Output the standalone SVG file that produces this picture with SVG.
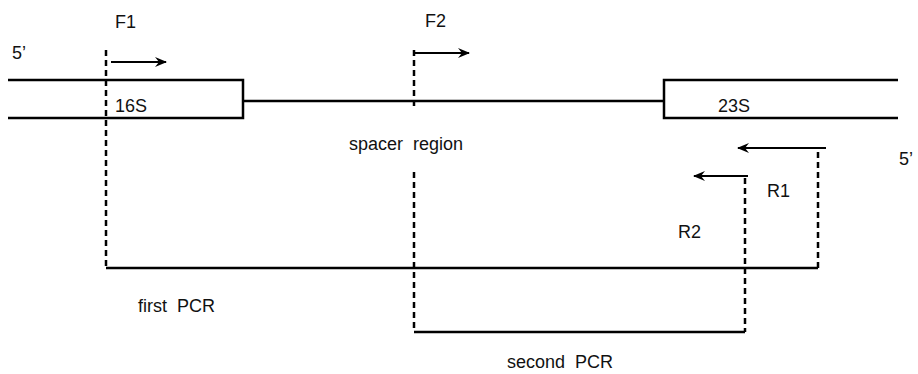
<svg xmlns="http://www.w3.org/2000/svg" width="918" height="374" viewBox="0 0 918 374">
<style>
.s{stroke:#000;stroke-width:2.5;fill:none}
.d{stroke:#000;stroke-width:2.5;fill:none;stroke-dasharray:6,4}
.a{stroke:#000;stroke-width:2;fill:none}
text{font-family:"Liberation Sans",Arial,sans-serif;font-size:18px;fill:#111;word-spacing:5px}
</style>
<defs>
<marker id="ah" viewBox="0 0 12 10" refX="11" refY="5" markerWidth="12" markerHeight="10" markerUnits="userSpaceOnUse" orient="auto">
<path d="M0,0 L12,5 L0,10 L4,5 Z" fill="#000"/>
</marker>
</defs>
<rect width="918" height="374" fill="#fff"/>
<g id="gene16S">
<path class="s" d="M8,80 H243 V118 H8"/>
<text x="115" y="112">16S</text>
</g>
<g id="spacer">
<line class="s" x1="243" y1="101" x2="664" y2="101"/>
<text x="349" y="150">spacer region</text>
</g>
<g id="gene23S">
<path class="s" d="M898,80 H664 V118 H898"/>
<text x="718" y="112">23S</text>
</g>
<g id="labels">
<text x="12" y="59">5’</text>
<text x="899" y="165">5’</text>
</g>
<g id="F1">
<text x="115" y="28">F1</text>
<line class="a" x1="111" y1="62" x2="166" y2="62" marker-end="url(#ah)"/>
</g>
<g id="F2">
<text x="425" y="27">F2</text>
<line class="a" x1="415" y1="53" x2="469" y2="53" marker-end="url(#ah)"/>
</g>
<g id="R1">
<text x="767" y="197">R1</text>
<line class="a" x1="826" y1="148" x2="738" y2="148" marker-end="url(#ah)"/>
</g>
<g id="R2">
<text x="678" y="238">R2</text>
<line class="a" x1="748" y1="176" x2="694" y2="176" marker-end="url(#ah)"/>
</g>
<g id="PCR">
<text x="138" y="312">first PCR</text>
<text x="507" y="368">second PCR</text>
</g>
<g id="connectors">
<line class="d" x1="106" y1="50" x2="106" y2="268"/>
<line class="d" x1="414" y1="50" x2="414" y2="110"/>
<line class="d" x1="414" y1="172" x2="414" y2="332"/>
<line class="d" x1="818" y1="152" x2="818" y2="268"/>
<line class="d" x1="745" y1="178" x2="745" y2="332"/>
<line class="s" x1="106" y1="268" x2="818" y2="268"/>
<line class="s" x1="414" y1="332" x2="745" y2="332"/>
</g>
</svg>
